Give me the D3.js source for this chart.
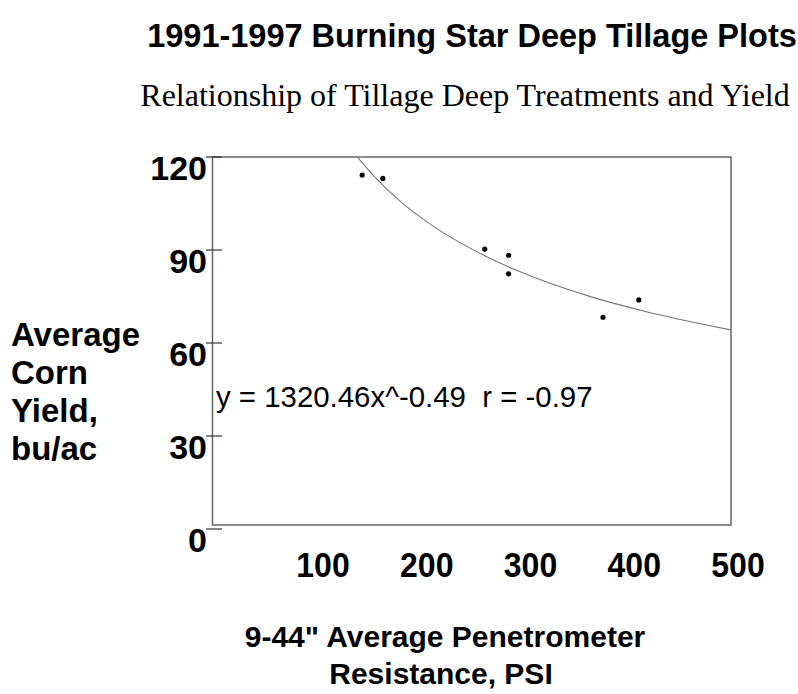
<!DOCTYPE html>
<html lang="en">
<head>
	<title>Burning Star Deep Tillage Plots</title>
	<meta charset="utf-8">
	<script src="https://d3js.org/d3.v7.min.js" charset="utf-8"></script>
	<style>
		body { margin: 0; background: #fff; }
		text { font-family: "Liberation Sans", Arial, sans-serif; fill: #000; }
		.bold { font-weight: bold; }
		.serif { font-family: "Liberation Serif", "Times New Roman", serif; }
	</style>
</head>
<body>
	<script>
		// data
		var penetrometer = [138, 157, 251, 273, 273, 360, 393];   // PSI
		var cornYield = [114.2, 113.1, 90.3, 88.3, 82.3, 68.3, 73.9]; // bu/ac

		// fitted curve as drawn (y = 1320.46x^-0.49)
		var fitX = [134, 150, 175, 200, 250, 300, 350, 400, 450, 478];
		var fitY = [119.8, 113.4, 105.1, 98.5, 88.3, 80.7, 74.8, 70.1, 66.2, 64.2];

		var yTicks = [0, 30, 60, 90, 120];
		var xTickLabels = ["100", "200", "300", "400", "500"];

		var width = 798;
		var height = 694;

		var svg = d3.select("body")
			.append("svg")
			.attr("width", width)
			.attr("height", height);

		var x = d3.scaleLinear().domain([0, 478]).range([212.5, 731]);
		var y = d3.scaleLinear().domain([0, 120]).range([529, 157]);
		// the printed x labels are not quite on the value scale
		var xLab = d3.scalePoint().domain(xTickLabels).range([323, 738]);

		// titles
		svg.append("text")
			.attr("class", "bold")
			.attr("x", 472).attr("y", 47)
			.attr("text-anchor", "middle")
			.style("font-size", "32.5px")
			.text("1991-1997 Burning Star Deep Tillage Plots");

		svg.append("text")
			.attr("class", "serif")
			.attr("x", 465).attr("y", 106)
			.attr("text-anchor", "middle")
			.style("font-size", "32px")
			.text("Relationship of Tillage Deep Treatments and Yield");

		// plot box
		svg.append("rect")
			.attr("x", x(0))
			.attr("y", y(120))
			.attr("width", x(478) - x(0))
			.attr("height", y(0) - 4 - y(120))
			.attr("fill", "none")
			.attr("stroke", "#666")
			.attr("stroke-width", 1.5);

		// y ticks
		svg.selectAll(".ytick")
			.data(yTicks)
			.enter()
			.append("line")
			.attr("x1", 206).attr("x2", 222)
			.attr("y1", d => y(d)).attr("y2", d => y(d))
			.attr("stroke", "#333")
			.attr("stroke-width", 1.2);

		svg.selectAll(".ylab")
			.data(yTicks)
			.enter()
			.append("text")
			.attr("class", "bold")
			.attr("x", 207)
			.attr("y", d => y(d) + 22.5)
			.attr("text-anchor", "end")
			.style("font-size", "34px")
			.text(d => d);

		// x numbers are a little taller than wide in the original
		svg.selectAll(".xlab")
			.data(xTickLabels)
			.enter()
			.append("text")
			.attr("class", "bold")
			.attr("transform", d => "translate(" + xLab(d) + ",577) scale(1,1.1)")
			.attr("text-anchor", "middle")
			.style("font-size", "32px")
			.text(d => d);

		// fitted curve
		var line = d3.line()
			.x(d => x(d[0]))
			.y(d => y(d[1]))
			.curve(d3.curveMonotoneX);

		svg.append("path")
			.datum(d3.zip(fitX, fitY))
			.attr("d", line)
			.attr("fill", "none")
			.attr("stroke", "#777")
			.attr("stroke-width", 1.1);

		// points
		svg.selectAll(".pt")
			.data(d3.zip(penetrometer, cornYield))
			.enter()
			.append("circle")
			.attr("cx", d => x(d[0]))
			.attr("cy", d => y(d[1]))
			.attr("r", 2.6)
			.attr("fill", "#000");

		// equation
		svg.append("text")
			.attr("x", 216).attr("y", 407)
			.style("font-size", "29.4px")
			.style("white-space", "pre")
			.text("y = 1320.46x^-0.49  r = -0.97");

		// axis titles
		var yTitle = svg.append("text")
			.attr("class", "bold")
			.style("font-size", "33px");
		["Average", "Corn", "Yield,", "bu/ac"].forEach(function(t, i) {
			yTitle.append("tspan").attr("x", 11).attr("y", 346 + i * 38).text(t);
		});

		var xTitle = svg.append("text")
			.attr("class", "bold")
			.attr("text-anchor", "middle")
			.style("font-size", "30px");
		xTitle.append("tspan").attr("x", 445).attr("y", 647).text("9-44\" Average Penetrometer");
		xTitle.append("tspan").attr("x", 441).attr("y", 684).text("Resistance, PSI");
	</script>
</body>
</html>
